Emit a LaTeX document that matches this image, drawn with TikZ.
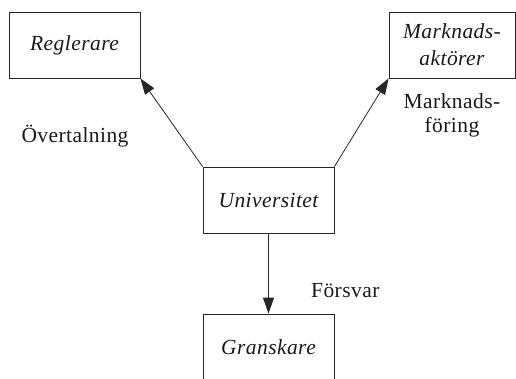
\documentclass[tikz,border=0pt]{standalone}
\usepackage{fontspec}
\setmainfont[LetterSpace=2]{Liberation Serif}
\usetikzlibrary{arrows.meta}
\begin{document}
\begin{tikzpicture}[x=1pt,y=-1pt,
  box/.style={draw=black!85,line width=0.8pt,rectangle,inner sep=0pt,minimum height=66pt,align=center,font=\fontsize{21.5}{27}\selectfont\itshape,text=black!90},
  conn/.style={draw=black!85,line width=0.8pt,-{Triangle[length=16pt,width=11pt]}},
  lbl/.style={font=\fontsize{21.5}{24}\selectfont,align=center,text=black!90,inner sep=0pt}]
\clip (0,0) rectangle (516,378);
\node[box,minimum width=131pt] (regl) at (74.5,45) {Reglerare};
\node[box,minimum width=126pt] (mark) at (452,45) {Marknads-\\aktörer};
\node[box,minimum width=131pt] (univ) at (268.5,200) {Universitet};
\node[box,minimum width=131pt] (gran) at (268.5,347) {Granskare};
\draw[conn] (univ.north west) -- (regl.south east);
\draw[conn] (univ.north east) -- (mark.south west);
\draw[conn] (univ.south) -- (gran.north);
\node[lbl,anchor=base] (ov) at (75,142) {Övertalning};
\node[lbl,anchor=base] (mf) at (452,132) {Marknads-\\föring};
\node[lbl,anchor=base west] (fo) at (311,297) {Försvar};
\end{tikzpicture}
\end{document}
